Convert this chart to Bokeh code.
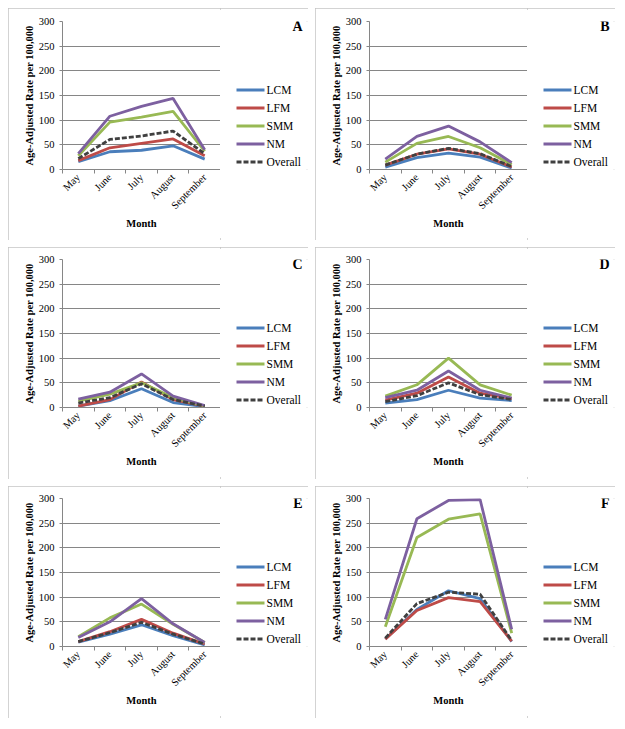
import math
from bokeh.plotting import figure
from bokeh.layouts import row, column
from bokeh.models import Range1d, FixedTicker, Label, Arrow
from bokeh.embed import file_html
from bokeh.resources import INLINE

# ---- data ----
months = ["May", "June", "July", "August", "September"]
series_names = ["LCM", "LFM", "SMM", "NM", "Overall"]
y_ticks = [0, 50, 100, 150, 200, 250, 300]

a_lcm = [16, 36, 39, 48, 21]
a_lfm = [18, 44, 53, 62, 28]
a_smm = [28, 96, 106, 118, 37]
a_nm = [32, 108, 128, 144, 40]
a_overall = [22, 61, 68, 78, 32]

b_lcm = [5, 24, 33, 25, 3]
b_lfm = [9, 31, 42, 31, 5]
b_smm = [15, 53, 67, 44, 10]
b_nm = [21, 67, 88, 56, 14]
b_overall = [9, 31, 43, 32, 6]

c_lcm = [3, 14, 38, 10, 2]
c_lfm = [3, 16, 52, 16, 3]
c_smm = [13, 27, 50, 20, 3]
c_nm = [17, 31, 68, 23, 4]
c_overall = [9, 20, 48, 16, 3]

d_lcm = [9, 16, 35, 19, 14]
d_lfm = [15, 29, 62, 29, 18]
d_smm = [23, 46, 100, 46, 25]
d_nm = [20, 35, 74, 35, 19]
d_overall = [12, 24, 50, 26, 16]

e_lcm = [9, 25, 44, 22, 3]
e_lfm = [10, 30, 55, 27, 5]
e_smm = [20, 58, 86, 45, 8]
e_nm = [18, 50, 97, 46, 8]
e_overall = [10, 28, 49, 25, 5]

f_lcm = [15, 75, 113, 97, 10]
f_lfm = [15, 73, 99, 91, 11]
f_smm = [40, 221, 258, 269, 27]
f_nm = [55, 259, 296, 298, 35]
f_overall = [17, 87, 110, 106, 12]

panels = [
    ("A", [a_lcm, a_lfm, a_smm, a_nm, a_overall]),
    ("B", [b_lcm, b_lfm, b_smm, b_nm, b_overall]),
    ("C", [c_lcm, c_lfm, c_smm, c_nm, c_overall]),
    ("D", [d_lcm, d_lfm, d_smm, d_nm, d_overall]),
    ("E", [e_lcm, e_lfm, e_smm, e_nm, e_overall]),
    ("F", [f_lcm, f_lfm, f_smm, f_nm, f_overall]),
]

# ---- styles ----
colors = ["#4A7EBB", "#BE4B48", "#98B954", "#7D60A0", "#404040"]
dashes = ["solid", "solid", "solid", "solid", "5 2"]
FONT = "Liberation Serif"
AXIS_GRAY = "#868686"
PANEL_H = 232
MAIN_W = 212
LEG_W = 88
FRAME_LEFT = 54
FRAME_H = 148


def make_panel(letter, values, top):
    n = len(months)
    xs = list(range(1, n + 1))
    p = figure(width=MAIN_W, height=PANEL_H, output_backend="svg", toolbar_location=None,
               x_range=Range1d(0.5, n + 0.5), y_range=Range1d(y_ticks[0], y_ticks[-1]),
               min_border_left=FRAME_LEFT, min_border_right=0,
               min_border_top=top, min_border_bottom=PANEL_H - top - FRAME_H,
               outline_line_color=None)

    xa = p.xaxis[0]
    xa.ticker = FixedTicker(ticks=xs, minor_ticks=[i + 0.5 for i in range(n + 1)])
    xa.major_label_overrides = {x: m for x, m in zip(xs, months)}
    xa.major_tick_line_color = None
    xa.major_tick_out = 4
    xa.minor_tick_line_color = AXIS_GRAY
    xa.minor_tick_out = 4
    xa.minor_tick_in = 0
    xa.major_label_orientation = math.pi / 4
    xa.major_label_standoff = 2
    xa.axis_label = "Month"
    xa.axis_label_standoff = 0

    ya = p.yaxis[0]
    ya.ticker = FixedTicker(ticks=y_ticks)
    ya.major_tick_out = 3
    ya.major_tick_in = 0
    ya.minor_tick_line_color = None
    ya.major_tick_line_color = AXIS_GRAY
    ya.major_label_standoff = 5
    ya.axis_label = "Age-Adjusted Rate per 100,000"
    ya.axis_label_standoff = 1

    for ax in (xa, ya):
        ax.axis_line_color = AXIS_GRAY
        ax.major_label_text_font = FONT
        ax.major_label_text_font_size = "10.5px"
        ax.major_label_text_color = "#000000"
        ax.axis_label_text_font = FONT
        ax.axis_label_text_font_size = "10.5px"
        ax.axis_label_text_font_style = "bold"
        ax.axis_label_text_color = "#000000"

    p.xgrid.visible = False
    p.ygrid.ticker = FixedTicker(ticks=y_ticks)
    p.ygrid.grid_line_color = AXIS_GRAY
    p.ygrid.grid_line_width = 1

    for vals, c, d in zip(values, colors, dashes):
        p.line(xs, vals, line_color=c, line_width=2.8, line_dash=d)

    # legend + panel letter in a companion figure (its frame aligns with the plot frame)
    lf = figure(width=LEG_W, height=PANEL_H, output_backend="svg", toolbar_location=None,
                x_axis_type=None, y_axis_type=None, min_border=0,
                x_range=Range1d(0, LEG_W), y_range=Range1d(0, PANEL_H),
                outline_line_color=None)
    k = len(series_names)
    for i, (name, c, d) in enumerate(zip(series_names, colors, dashes)):
        yy = 7.5 + (k - 1 - i) * 18
        lf.add_layout(Arrow(end=None, x_start=16, x_end=44, y_start=yy, y_end=yy,
                            start_units="screen", end_units="screen",
                            line_color=c, line_width=2.8, line_dash=d))
        lf.add_layout(Label(x=46, y=yy, x_units="screen", y_units="screen",
                            text=name, text_baseline="middle", text_align="left",
                            text_font=FONT, text_font_size="11.5px",
                            text_color="#000000"))
    lf.add_layout(Label(x=LEG_W - 6, y=FRAME_H - 5, x_units="screen", y_units="screen",
                        text=letter, text_align="right", text_baseline="middle",
                        text_font=FONT, text_font_style="bold", text_font_size="14px",
                        text_color="#000000"))

    return row(p, lf, spacing=0,
               styles={"outline": "2px solid #c4c4c4", "outline-offset": "-2px"})


cells = []
for i, (letter, values) in enumerate(panels):
    cells.append(make_panel(letter, values, 13 if i < 2 else 12))

layout = column(
    row(cells[0], cells[1], spacing=7),
    row(cells[2], cells[3], spacing=7),
    row(cells[4], cells[5], spacing=7),
    spacing=7,
    margin=(8, 8, 8, 8),
)

open("out.html", "w").write(file_html(layout, INLINE))
